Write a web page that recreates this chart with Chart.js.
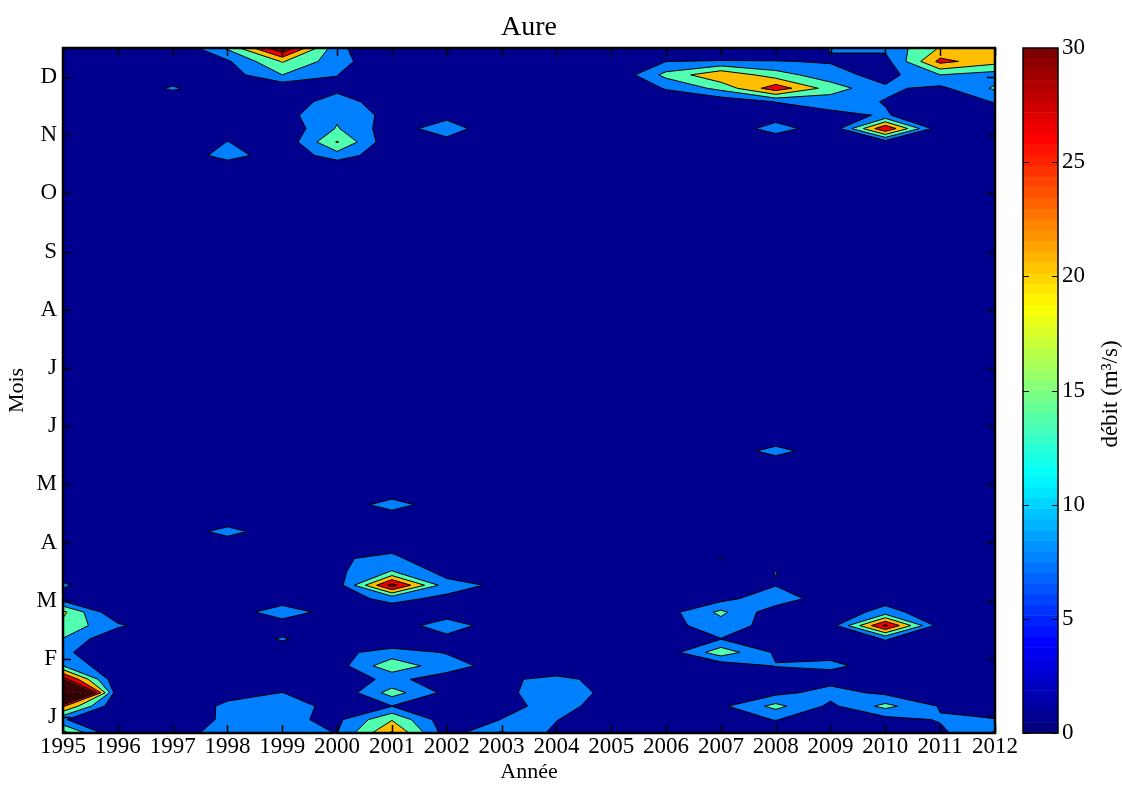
<!DOCTYPE html>
<html>
<head>
<meta charset="utf-8">
<script src="https://cdn.jsdelivr.net/npm/chart.js@4.4.1/dist/chart.umd.min.js"></script>
<style>
  html, body { margin: 0; padding: 0; background: #fff; }
  canvas { display: block; }
</style>
</head>
<body>
<canvas id="chart" width="1122" height="785"></canvas>
<script>
// axes
const years = [1995, 1996, 1997, 1998, 1999, 2000, 2001, 2002, 2003, 2004, 2005, 2006, 2007, 2008, 2009, 2010, 2011, 2012];
const monthLabels = ['J', 'F', 'M', 'A', 'M', 'J', 'J', 'A', 'S', 'O', 'N', 'D'];
const monthTicks = [1, 2, 3, 4, 5, 6, 7, 8, 9, 10, 11, 12];
const colorTicks = [0, 5, 10, 15, 20, 25, 30];
const yMin = 0.725;
const yMax = 12.5;
const weekCount = 52;

// débit (m3/s) per year, as [week index, value]; weeks not listed are ~0
const q1995 = [[0, 22], [1, 7], [2, 27], [3, 85], [4, 36], [5, 13], [6, 8], [7, 12.7], [8, 17.5], [9, 21], [10, 3], [11, 7.5], [12, 3]];
const q1996 = [[8, 7.8]];
const q1997 = [[0, 3], [1, 2], [2, 1], [48, 7.7]];
const q1998 = [[0, 10], [1, 7.8], [2, 8], [3, 4], [15, 10], [43, 10], [44, 6.7], [49, 3.3], [50, 5.5], [51, 14]];
const q1999 = [[0, 8], [1, 8], [2, 9], [3, 6.6], [7, 7.5], [9, 12.9], [43, 1.5], [44, 1], [45, 1.2], [46, 4], [47, 4.5], [48, 1], [49, 13], [50, 20], [51, 39]];
const q2000 = [[0, 6.4], [1, 5], [2, 4.8], [3, 1], [4, 4.2], [5, 3.5], [6, 5.2], [9, 1], [10, 4.2], [11, 3], [12, 5], [13, 5.8], [43, 10], [44, 20], [45, 13.5], [46, 12], [47, 8], [48, 5.6], [49, 6.6], [50, 9.3], [51, 8]];
const q2001 = [[0, 27], [1, 19], [2, 6.3], [3, 15.9], [4, 7.5], [5, 18], [6, 8.5], [7, 2], [9, 3.5], [10, 8], [11, 35], [12, 13.5], [13, 8], [14, 4], [17, 11], [43, 1.5], [44, 1], [45, 2.7], [46, 4], [47, 4.5]];
const q2002 = [[0, 3], [1, 2], [3, 4.6], [4, 4.5], [5, 8.5], [6, 6.2], [7, 3], [8, 12.5], [10, 5.2], [11, 9], [12, 4], [13, 1], [44, 4], [45, 10.6], [46, 4], [51, 7.5]];
const q2003 = [[0, 14], [1, 6.6], [2, 4.7], [3, 4.5], [4, 5.5], [5, 4.5], [11, 5.2]];
const q2004 = [[0, 4.7], [1, 6.8], [2, 8.5], [3, 11], [4, 8], [5, 2]];
const q2005 = [[2, 4], [3, 4.3], [4, 4.4]];
const q2006 = [[6, 3], [8, 4.2], [9, 3.8], [47, 2], [48, 7], [49, 15], [50, 6.4]];
const q2007 = [[1, 3], [2, 5.2], [5, 2], [6, 17], [7, 6.3], [8, 10], [9, 14.5], [10, 4.2], [13, 6.8], [47, 2], [48, 15], [49, 25], [50, 7]];
const q2008 = [[0, 2], [1, 6.8], [2, 15], [3, 4.6], [4, 2], [5, 6.8], [6, 5.5], [7, 2], [8, 3.75], [9, 2.2], [10, 11], [11, 6.2], [12, 6.7], [21, 10], [45, 10.3], [46, 2], [47, 6.7], [48, 30], [49, 16], [50, 6.8]];
const q2009 = [[0, 1], [1, 2], [2, 5], [3, 9], [4, 4], [5, 7.5], [6, 5], [8, 3], [9, 2], [10, 2], [45, 1], [46, 5], [47, 9], [48, 16.5], [49, 9], [50, 6], [51, 6.8]];
const q2010 = [[1, 4], [2, 15], [3, 5], [5, 4.5], [6, 2], [7, 7], [8, 34], [9, 9], [10, 3.8], [44, 3], [45, 32], [46, 7], [47, 6.2], [48, 7.5], [49, 4], [50, 4], [51, 8]];
const q2011 = [[0, 5], [1, 7], [2, 6], [8, 3], [9, 2], [45, 1.5], [46, 2], [47, 3], [48, 5], [49, 13], [50, 28], [51, 20]];
const q2012 = [[0, 14], [1, 6.8], [2, 3], [46, 3], [47, 6.8], [48, 14], [49, 10], [50, 22], [51, 22]];

const series = [q1995, q1996, q1997, q1998, q1999, q2000, q2001, q2002, q2003, q2004, q2005, q2006, q2007, q2008, q2009, q2010, q2011, q2012];

// contour levels and band colours (navy below the first level)
const levels = [6.5, 13, 19.5, 26, 32.5, 39, 45.5, 52, 58.5, 65, 71.5, 78, 84.5];
const bandColors = ['#00008f', '#0080ff', '#50ffb0', '#ffbf00', '#f00000', '#800000'];

const weekPos = Array.from({ length: weekCount }, (_, k) => yMin + k * (yMax - yMin) / (weekCount - 1));
const grid = series.map((pairs) => {
  const col = new Array(weekCount).fill(0);
  pairs.forEach(([k, v]) => { col[k] = v; });
  return col;
});

function jet(t) {
  const c = (v) => Math.round(255 * Math.min(1, Math.max(0, v)));
  return `rgb(${c(1.5 - Math.abs(4 * t - 3))},${c(1.5 - Math.abs(4 * t - 2))},${c(1.5 - Math.abs(4 * t - 1))})`;
}

// parts of one grid cell at or above level L (edges interpolated linearly)
function clipCell(corners, L) {
  const inside = corners.map((p) => p[2] >= L);
  const cross = (a, b) => {
    const t = (L - a[2]) / (b[2] - a[2]);
    return [a[0] + t * (b[0] - a[0]), a[1] + t * (b[1] - a[1]), true];
  };
  const saddle = inside[0] === inside[2] && inside[1] === inside[3] && inside[0] !== inside[1];
  if (saddle && corners.reduce((s, p) => s + p[2], 0) / 4 < L) {
    return [0, 1, 2, 3].filter((i) => inside[i]).map((i) => {
      const p = corners[i];
      return [[p[0], p[1], false], cross(p, corners[(i + 1) % 4]), cross(corners[(i + 3) % 4], p)];
    });
  }
  const out = [];
  for (let i = 0; i < 4; i++) {
    const a = corners[i];
    const b = corners[(i + 1) % 4];
    if (inside[i]) out.push([a[0], a[1], false]);
    if (inside[i] !== inside[(i + 1) % 4]) out.push(cross(a, b));
  }
  return out.length >= 3 ? [out] : [];
}

const contourPlugin = {
  id: 'contour',
  beforeDatasetsDraw(chart) {
    const { ctx, chartArea: a, scales: { x, y } } = chart;
    const px = years.map((v) => x.getPixelForValue(v));
    const py = weekPos.map((v) => y.getPixelForValue(v));
    ctx.save();
    ctx.beginPath();
    ctx.rect(a.left, a.top, a.right - a.left, a.bottom - a.top);
    ctx.clip();
    ctx.fillStyle = bandColors[0];
    ctx.fillRect(a.left, a.top, a.right - a.left, a.bottom - a.top);

    const segs = [];
    levels.forEach((L, li) => {
      ctx.beginPath();
      for (let j = 0; j < years.length - 1; j++) {
        for (let k = 0; k < weekCount - 1; k++) {
          const cell = [
            [px[j], py[k], grid[j][k]],
            [px[j + 1], py[k], grid[j + 1][k]],
            [px[j + 1], py[k + 1], grid[j + 1][k + 1]],
            [px[j], py[k + 1], grid[j][k + 1]]
          ];
          clipCell(cell, L).forEach((poly) => {
            poly.forEach((p, i) => (i ? ctx.lineTo(p[0], p[1]) : ctx.moveTo(p[0], p[1])));
            ctx.closePath();
            poly.forEach((p, i) => {
              const q = poly[(i + 1) % poly.length];
              if (p[2] && q[2]) segs.push([p, q]);
            });
          });
        }
      }
      ctx.fillStyle = bandColors[Math.min(li + 1, bandColors.length - 1)];
      ctx.fill();
    });

    ctx.beginPath();
    segs.forEach(([p, q]) => { ctx.moveTo(p[0], p[1]); ctx.lineTo(q[0], q[1]); });
    ctx.strokeStyle = '#000';
    ctx.lineWidth = 1;
    ctx.stroke();
    ctx.restore();
  }
};

const framePlugin = {
  id: 'frame',
  afterDraw(chart) {
    const { ctx, chartArea: a, scales: { x, y, c } } = chart;
    ctx.save();
    ctx.strokeStyle = '#000';

    // axes box with inward ticks
    ctx.lineWidth = 1.5;
    ctx.beginPath();
    years.forEach((v) => {
      const px = Math.round(x.getPixelForValue(v)) + 0.5;
      ctx.moveTo(px, a.bottom); ctx.lineTo(px, a.bottom - 8);
      ctx.moveTo(px, a.top); ctx.lineTo(px, a.top + 8);
    });
    monthTicks.forEach((v) => {
      const py = Math.round(y.getPixelForValue(v)) + 0.5;
      ctx.moveTo(a.left, py); ctx.lineTo(a.left + 8, py);
      ctx.moveTo(a.right, py); ctx.lineTo(a.right - 8, py);
    });
    ctx.stroke();
    ctx.lineWidth = 2.5;
    ctx.strokeRect(a.left, a.top, a.right - a.left, a.bottom - a.top);

    // colour bar
    const cbLeft = a.right + 28;
    const cbRight = cbLeft + 35;
    for (let i = 0; i < 64; i++) {
      const y0 = c.getPixelForValue(i * 30 / 64);
      const y1 = c.getPixelForValue((i + 1) * 30 / 64);
      ctx.fillStyle = jet(i / 63);
      ctx.fillRect(cbLeft, y1, cbRight - cbLeft, y0 - y1 + 0.5);
    }
    ctx.lineWidth = 1.2;
    ctx.beginPath();
    colorTicks.forEach((v) => {
      const py = Math.round(c.getPixelForValue(v)) + 0.5;
      ctx.moveTo(cbLeft, py); ctx.lineTo(cbLeft + 6, py);
      ctx.moveTo(cbRight, py); ctx.lineTo(cbRight - 6, py);
    });
    ctx.stroke();
    ctx.lineWidth = 1.5;
    ctx.strokeRect(cbLeft, a.top, cbRight - cbLeft, a.bottom - a.top);

    // titles
    ctx.fillStyle = '#000';
    ctx.textAlign = 'center';
    ctx.textBaseline = 'middle';
    ctx.font = '28px "Liberation Serif"';
    ctx.fillText('Aure', (a.left + a.right) / 2, 28);

    ctx.translate(1111, 394);
    ctx.rotate(-Math.PI / 2);
    ctx.font = '23px "Liberation Serif"';
    ctx.fillText('débit (m³/s)', 0, 0);
    ctx.restore();
  }
};

const tickFont = { family: 'Liberation Serif', size: 23 };
const labelFont = { family: 'Liberation Serif', size: 22 };
const noPad = (scale) => { scale.paddingTop = 0; scale.paddingBottom = 0; };

new Chart(document.getElementById('chart'), {
  type: 'scatter',
  data: { datasets: [{ data: [] }] },
  options: {
    responsive: false,
    animation: false,
    devicePixelRatio: 1,
    color: '#000',
    layout: { padding: { top: 48, left: 0, right: 0, bottom: 0 } },
    plugins: { legend: { display: false }, tooltip: { enabled: false } },
    scales: {
      x: {
        type: 'linear',
        position: 'bottom',
        min: years[0],
        max: years[years.length - 1],
        afterBuildTicks: (scale) => { scale.ticks = years.map((v) => ({ value: v })); },
        afterFit: (scale) => { scale.height = 52; scale.paddingLeft = 0; scale.paddingRight = 0; },
        grid: { display: false, drawTicks: false },
        border: { display: false },
        ticks: { color: '#000', font: tickFont, padding: 0, maxRotation: 0, autoSkip: false, callback: (v) => String(v) },
        title: { display: true, text: 'Année', color: '#000', font: labelFont, padding: { top: 0, bottom: 0 } }
      },
      y: {
        type: 'linear',
        position: 'left',
        min: yMin,
        max: yMax,
        afterBuildTicks: (scale) => { scale.ticks = monthTicks.map((v) => ({ value: v })); },
        afterFit: (scale) => { scale.width = 63; noPad(scale); },
        grid: { display: false, drawTicks: false },
        border: { display: false },
        ticks: { color: '#000', font: tickFont, padding: 6, autoSkip: false, callback: (v, i) => monthLabels[i] },
        title: { display: true, text: 'Mois', color: '#000', font: labelFont, padding: { top: 4, bottom: 0 } }
      },
      c: {
        type: 'linear',
        position: 'right',
        min: 0,
        max: 30,
        afterBuildTicks: (scale) => { scale.ticks = colorTicks.map((v) => ({ value: v })); },
        afterFit: (scale) => { scale.width = 127; noPad(scale); },
        grid: { display: false, drawTicks: false },
        border: { display: false },
        ticks: { color: '#000', font: tickFont, padding: 67, autoSkip: false }
      }
    }
  },
  plugins: [contourPlugin, framePlugin]
});
</script>
</body>
</html>
